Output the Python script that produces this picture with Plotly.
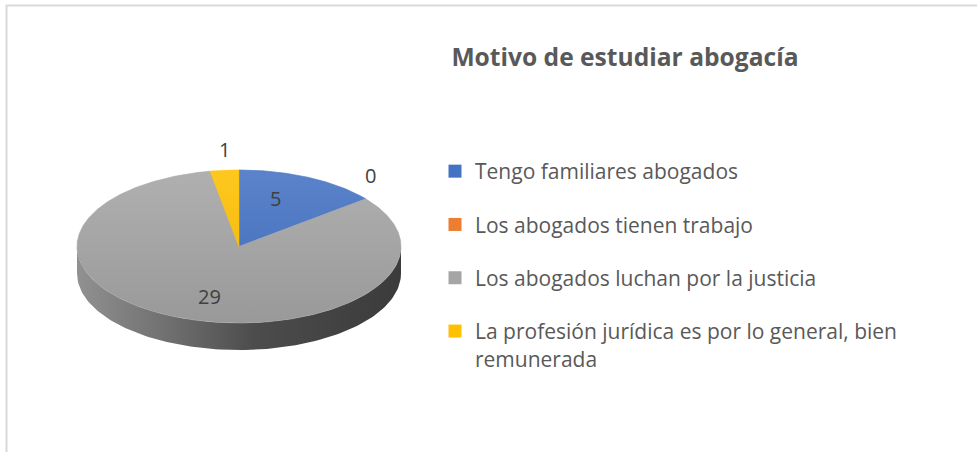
import numpy as np
import plotly.graph_objects as go

# ---- data ----
categories = [
    "Tengo familiares abogados",
    "Los abogados tienen trabajo",
    "Los abogados luchan por la justicia",
    "La profesión jurídica es por lo general, bien remunerada",
]
legend_labels = [
    "Tengo familiares abogados",
    "Los abogados tienen trabajo",
    "Los abogados luchan por la justicia",
    "La profesión jurídica es por lo general, bien<br>remunerada",
]
values = [5, 0, 29, 1]
colors = ["#4472C4", "#ED7D31", "#A5A5A5", "#FFC000"]
title_text = "Motivo de estudiar abogacía"

# ---- geometry (pixel-space axes) ----
W, H = 977, 452
CX, CY, RX, RY, DEPTH = 239, 246.5, 162, 76.5, 27
FONT = "Open Sans"


def hex2rgb(h):
    h = h.lstrip("#")
    return [int(h[i:i + 2], 16) for i in (0, 2, 4)]


def shade(h, f):
    r, g, b = hex2rgb(h)
    if f <= 1:
        r, g, b = [int(round(c * f)) for c in (r, g, b)]
    else:
        t = f - 1
        r, g, b = [int(round(c + (255 - c) * t)) for c in (r, g, b)]
    return f"rgb({r},{g},{b})"


def ell(theta_deg, dy=0.0):
    t = np.radians(theta_deg)
    return CX + RX * np.sin(t), CY - RY * np.cos(t) + dy


total = float(sum(values))
starts, ends = [], []
acc = 0.0
for v in values:
    starts.append(acc / total * 360.0)
    acc += v
    ends.append(acc / total * 360.0)

fig = go.Figure()

# side walls (visible lower half: 90..270 deg clockwise from top)
for v, c, a0, a1 in zip(values, colors, starts, ends):
    b0, b1 = max(a0, 90.0), min(a1, 270.0)
    if v <= 0 or b1 <= b0:
        continue
    th = np.linspace(b0, b1, 120)
    xt, yt = ell(th)
    xb, yb = ell(th[::-1], DEPTH)
    xs = np.concatenate([xt, xb, xt[:1]])
    ys = np.concatenate([yt, yb, yt[:1]])
    fig.add_trace(go.Scatter(
        x=xs, y=ys, mode="lines", fill="toself",
        line=dict(width=0, color=shade(c, 0.5)),
        fillcolor=shade(c, 0.5),
        fillgradient=dict(
            type="horizontal", start=CX - RX, stop=CX + RX,
            colorscale=[[0, shade(c, 0.88)], [0.3, shade(c, 0.66)],
                        [0.55, shade(c, 0.46)], [1, shade(c, 0.36)]]),
        showlegend=False, hoverinfo="skip"))

# top faces
for v, c, a0, a1 in zip(values, colors, starts, ends):
    if v <= 0:
        continue
    th = np.linspace(a0, a1, max(4, int((a1 - a0) * 2)))
    xe, ye = ell(th)
    xs = np.concatenate([[CX], xe, [CX]])
    ys = np.concatenate([[CY], ye, [CY]])
    fig.add_trace(go.Scatter(
        x=xs, y=ys, mode="lines", fill="toself",
        line=dict(width=0.6, color=c),
        fillcolor=c,
        fillgradient=dict(
            type="vertical", start=CY - RY, stop=CY + RY,
            colorscale=[[0, shade(c, 1.12)], [1, shade(c, 0.93)]]),
        showlegend=False, hoverinfo="skip"))

# data labels
for v, a0, a1 in zip(values, starts, ends):
    mid = (a0 + a1) / 2.0
    s, co = np.sin(np.radians(mid)), np.cos(np.radians(mid))
    share = v / total
    if share >= 0.05:
        x, y = CX + RX * 0.52 * s, CY - RY * 0.7 * co
        xa, ya = "center", "middle"
    else:
        ex, ey = ell(mid)
        x = ex + 2 * s
        y = ey - (8 if abs(s) > 0.3 else 5)
        xa = "left" if s > 0.3 else ("right" if s < -0.3 else "center")
        ya = "bottom"
        if xa == "left":
            x -= 4
    fig.add_annotation(x=x, y=y, xref="x", yref="y", text=str(v),
                       showarrow=False, xanchor=xa, yanchor=ya,
                       font=dict(family=FONT, size=20, color="#404040"))

# legend entries
for i, (lab, c) in enumerate(zip(legend_labels, colors)):
    fig.add_trace(go.Scatter(
        x=[None], y=[None], mode="markers", name=lab,
        legendgroup=f"g{i}",
        marker=dict(symbol="square", size=13, color=c)))

fig.add_shape(type="rect", xref="x", yref="y", x0=6.5, y0=5.5, x1=990, y1=470,
              line=dict(color="#D9D9D9", width=2), fillcolor="rgba(0,0,0,0)")

fig.update_layout(
    width=W, height=H, autosize=False,
    margin=dict(l=0, r=0, t=0, b=0),
    paper_bgcolor="white", plot_bgcolor="white",
    title=dict(text=f"<b>{title_text}</b>", x=625 / W, xanchor="center",
               y=1 - 57 / H, yanchor="middle",
               font=dict(family=FONT, size=24.6, color="#595959")),
    xaxis=dict(range=[0, W], visible=False, fixedrange=True),
    yaxis=dict(range=[H, 0], visible=False, fixedrange=True),
    legend=dict(x=435 / W, xanchor="left", y=1 - 151 / H, yanchor="top",
                font=dict(family=FONT, size=21, color="#595959"),
                tracegroupgap=23, valign="top", bgcolor="rgba(0,0,0,0)"),
    showlegend=True,
)

fig.write_html(
    "out.html",
    config={"displayModeBar": False},
    post_script="document.body.style.margin='0';document.body.style.overflow='hidden';",
)
